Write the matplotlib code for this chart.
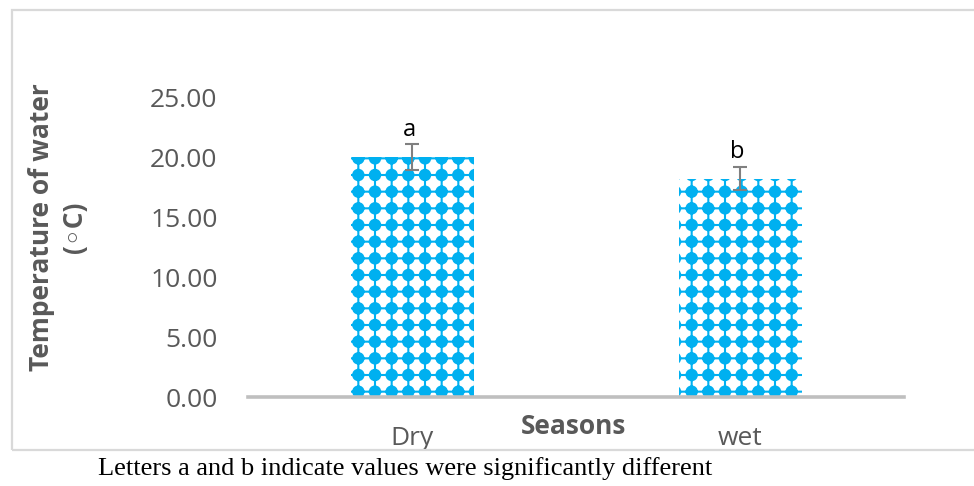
import matplotlib
matplotlib.use("Agg")
import matplotlib.pyplot as plt
import matplotlib.hatch as mhatch
from matplotlib.patches import Rectangle
from matplotlib.path import Path

categories = ["Dry", "wet"]
values = [20.0, 18.2]
errors = [1.05, 0.95]
letters = ["a", "b"]
yticks = [0, 5, 10, 15, 20, 25]

BLUE = "#00B0F0"
GRAY = "#595959"
FONT = ["Open Sans", "DejaVu Sans"]


class GridBlobs(mhatch.HatchPatternBase):
    """Filled dots placed on the intersections of the '+' hatch grid."""
    size = 0.31

    def __init__(self, hatch, density):
        self.num_rows = hatch.count('*') * density
        circ = Path.unit_circle()
        self.shape_vertices = circ.vertices
        self.shape_codes = circ.codes
        self.num_vertices = self.num_rows ** 2 * len(self.shape_vertices)

    def set_vertices_and_codes(self, vertices, codes):
        n = self.num_rows
        step = 1.0 / n
        sv = self.shape_vertices * step * self.size
        nv = len(sv)
        cur = 0
        for i in range(n):
            for j in range(n):
                vertices[cur:cur + nv] = sv + ((i + 0.5) * step,
                                               (j + 0.5) * step)
                codes[cur:cur + nv] = self.shape_codes
                cur += nv


mhatch._hatch_types = [GridBlobs if t is mhatch.Stars else t
                       for t in mhatch._hatch_types]

W, H = 974, 486
fig = plt.figure(figsize=(W / 100, H / 100), dpi=100)
ax = fig.add_axes([248 / W, 1 - 397 / H, (904 - 248) / W, 300 / H])

x = list(range(len(categories)))
with plt.rc_context({"hatch.linewidth": 1.5, "hatch.color": BLUE}):
    ax.bar(x, values, width=0.375, color="white", edgecolor=BLUE,
           hatch="+*", linewidth=0, zorder=2)

ax.errorbar(x, values, yerr=errors, fmt="none", ecolor="#808080",
            elinewidth=1.5, capsize=5, capthick=1.5, zorder=4)

for xi, v, e, l in zip(x, values, errors, letters):
    ax.annotate(l, (xi, v + e), xytext=(-2, 2), textcoords="offset points",
                ha="center", va="bottom", fontsize=17, color="black",
                family=FONT)

ax.set_xlim(-0.5, 1.5)
ax.set_ylim(0, 25)
ax.set_yticks(yticks)
ax.set_yticklabels([f"{t:.2f}" for t in yticks], family=FONT, fontsize=19,
                   color=GRAY)
ax.set_xticks(x)
ax.set_xticklabels(categories, family=FONT, fontsize=19, color=GRAY)
ax.tick_params(axis="y", length=0, pad=22)
ax.tick_params(axis="x", length=0, pad=21)
for s in ["top", "right", "left"]:
    ax.spines[s].set_visible(False)
ax.spines["bottom"].set_color("#BFBFBF")
ax.spines["bottom"].set_linewidth(2.6)
ax.patch.set_visible(False)

fig.text(574 / W, 1 - 426 / H, "Seasons", ha="center", va="center",
         fontsize=19, fontweight="bold", color=GRAY, family=FONT)
fig.text(58 / W, 1 - 227 / H, "Temperature of water\n(◦C)", ha="center",
         va="center", rotation=90, fontsize=19, fontweight="bold",
         color=GRAY, family=FONT, multialignment="center", linespacing=1.25)

fig.patches.append(Rectangle((12 / W, 1 - 450 / H), 1.1, 440 / H,
                             transform=fig.transFigure, fill=False,
                             edgecolor="#D9D9D9", linewidth=1.6,
                             clip_on=False))

fig.text(98 / W, 1 - 469 / H,
         "Letters a and b indicate values were significantly different",
         ha="left", va="center", fontsize=19, color="black",
         family=["Liberation Serif", "DejaVu Serif"])

fig.savefig("out.png", dpi=100)
